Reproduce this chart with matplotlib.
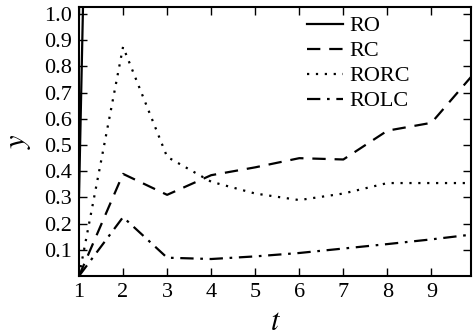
import numpy as np
from matplotlib import pyplot as plt

plt.rcParams['font.family'] = 'Liberation Serif'
plt.rcParams['mathtext.fontset'] = 'stix'

t = [1, 2, 3, 4, 5, 6, 7, 8, 9, 10]
t_ro = [1, 2]
ro = [0.3, 8.3]
rc = [0.0, 0.39, 0.31, 0.385, 0.415, 0.45, 0.445, 0.555, 0.585, 0.78]
rorc = [0.0, 0.875, 0.455, 0.36, 0.315, 0.29, 0.315, 0.355, 0.355, 0.355]
rolc = [0.0, 0.225, 0.07, 0.065, 0.075, 0.088, 0.105, 0.122, 0.14, 0.16]

fig = plt.figure(figsize=(4.73, 3.35), dpi=100)
ax = fig.add_axes([0.167, 0.176, 0.829, 0.803])

ax.plot(t_ro, ro, '-', color='black', lw=1.6, label='RO')
ax.plot(t, rc, color='black', lw=1.6, dashes=(6, 4), label='RC')
ax.plot(t, rorc, color='black', lw=1.6, dashes=(1, 3), label='RORC')
ax.plot(t, rolc, color='black', lw=1.6, dashes=(6, 3, 1.2, 3), label='ROLC')

ax.set_xlim(1, 9.9)
ax.set_ylim(0, 1.027)
ax.set_xticks(range(1, 10))
ax.set_yticks([0.1, 0.2, 0.3, 0.4, 0.5, 0.6, 0.7, 0.8, 0.9, 1.0])
ax.set_yticklabels(['0.1', '0.2', '0.3', '0.4', '0.5', '0.6', '0.7', '0.8', '0.9', '1.0'])
ax.tick_params(direction='in', top=True, right=True, length=6, width=1, labelsize=16, pad=5)
for s in ax.spines.values():
    s.set_linewidth(1.5)

ax.set_xlabel('$t$', fontsize=22, labelpad=4)
ax.set_ylabel('$y$', fontsize=22, labelpad=8)

ax.legend(loc='upper left', bbox_to_anchor=(0.56, 1.0), frameon=False, fontsize=16,
          handlelength=1.6, labelspacing=0.2, handletextpad=0.3, borderaxespad=0)

plt.savefig('out.png')
